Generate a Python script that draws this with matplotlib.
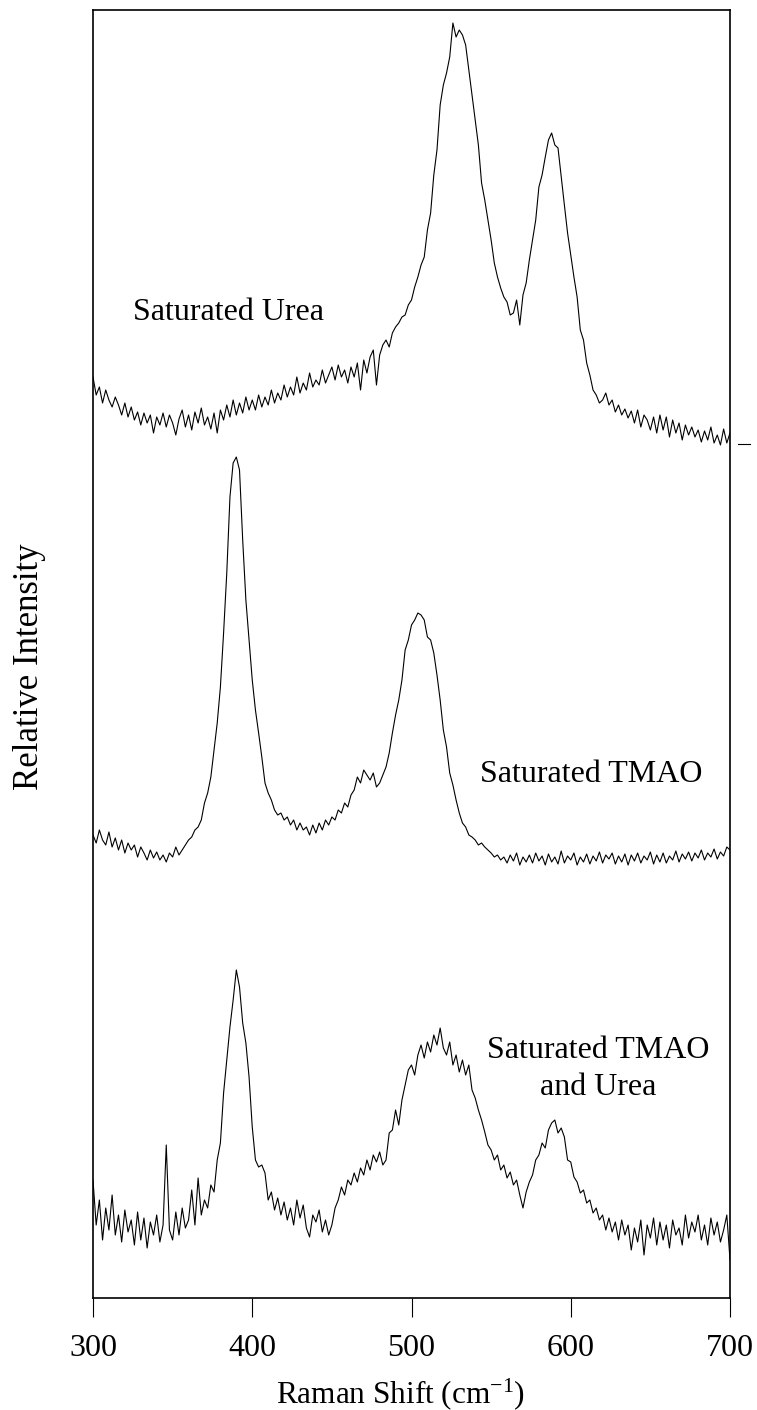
import numpy as np
import matplotlib
matplotlib.use('Agg')
import matplotlib.pyplot as plt
from matplotlib.lines import Line2D

plt.rcParams['font.family'] = ['Liberation Serif', 'DejaVu Serif']
plt.rcParams['mathtext.fontset'] = 'custom'
plt.rcParams['mathtext.rm'] = 'Liberation Serif'

# Raman shift grid (cm-1), 2 cm-1 steps
shift = np.arange(300, 701, 2)

# intensities (arbitrary units, each trace above its own baseline)
# one row = 20 cm-1
urea = [68, 50, 58, 42, 55, 45, 38, 48, 40, 30,
        42, 28, 38, 25, 33, 20, 32, 22, 30, 12,
        28, 20, 32, 18, 30, 22, 10, 26, 35, 18,
        30, 15, 33, 22, 37, 20, 28, 16, 32, 12,
        35, 25, 40, 28, 45, 30, 42, 32, 48, 35,
        45, 35, 50, 38, 48, 40, 55, 42, 52, 45,
        60, 48, 58, 50, 68, 52, 62, 55, 72, 58,
        65, 60, 75, 62, 70, 78, 65, 80, 68, 75,
        62, 78, 68, 82, 55, 85, 72, 88, 95, 60,
        90, 100, 105, 98, 112, 118, 122, 128, 130, 140,
        145, 158, 168, 180, 188, 215, 232, 270, 295, 340,
        360, 372, 388, 422, 408, 415, 410, 400, 375, 350,
        325, 300, 262, 245, 225, 205, 182, 168, 157, 148,
        143, 130, 132, 145, 120, 150, 162, 185, 205, 225,
        258, 270, 288, 305, 312, 300, 297, 268, 240, 212,
        190, 168, 148, 115, 105, 82, 70, 55, 50, 42,
        45, 52, 40, 45, 33, 40, 30, 36, 27, 34,
        22, 35, 18, 30, 25, 15, 28, 12, 30, 15,
        28, 8, 25, 12, 22, 5, 20, 10, 18, 8,
        15, 3, 14, 5, 18, 2, 10, 0, 16, 2,
        12]
tmao = [30, 22, 35, 25, 20, 33, 18, 27, 15, 25,
        12, 22, 15, 20, 8, 18, 12, 5, 15, 7,
        13, 5, 10, 3, 12, 8, 18, 10, 15, 20,
        25, 28, 35, 38, 45, 62, 72, 88, 115, 142,
        178, 232, 292, 368, 402, 408, 395, 325, 265, 225,
        185, 155, 132, 108, 82, 72, 65, 55, 50, 52,
        45, 48, 40, 45, 35, 42, 35, 38, 30, 40,
        32, 42, 35, 45, 40, 48, 45, 55, 52, 62,
        58, 70, 75, 88, 82, 95, 90, 85, 92, 78,
        82, 90, 98, 112, 132, 150, 165, 185, 215, 225,
        240, 245, 252, 250, 245, 228, 225, 212, 190, 165,
        135, 118, 92, 80, 65, 52, 42, 38, 30, 28,
        25, 20, 22, 18, 15, 12, 8, 10, 5, 8,
        2, 10, 4, 12, 0, 8, 3, 10, 2, 12,
        4, 9, 0, 11, 3, 8, 1, 14, 2, 9,
        5, 12, 0, 8, 3, 11, 1, 9, 4, 13,
        2, 10, 6, 12, 1, 9, 3, 11, 0, 10,
        4, 12, 2, 9, 5, 13, 1, 10, 3, 12,
        2, 9, 5, 14, 3, 11, 6, 13, 4, 12,
        7, 15, 5, 12, 8, 16, 6, 13, 9, 18,
        15]
mix = [90, 45, 70, 30, 62, 40, 75, 35, 55, 28,
       60, 38, 50, 25, 58, 30, 52, 22, 48, 35,
       55, 28, 45, 125, 40, 30, 58, 35, 62, 42,
       50, 80, 45, 92, 55, 70, 62, 85, 78, 110,
       127, 177, 210, 243, 270, 300, 283, 247, 227, 193,
       143, 110, 103, 105, 97, 70, 78, 60, 72, 55,
       68, 50, 62, 45, 70, 52, 65, 42, 33, 55,
       48, 60, 38, 50, 35, 45, 62, 70, 83, 75,
       90, 85, 97, 88, 102, 95, 110, 100, 115, 108,
       118, 105, 110, 137, 140, 160, 145, 170, 185, 200,
       205, 195, 215, 225, 212, 228, 218, 235, 225, 242,
       222, 215, 228, 205, 215, 198, 210, 195, 205, 180,
       172, 160, 150, 138, 125, 120, 110, 115, 100, 105,
       92, 98, 85, 90, 75, 62, 78, 88, 95, 110,
       115, 127, 122, 140, 147, 150, 137, 142, 133, 110,
       108, 93, 88, 77, 80, 67, 70, 57, 62, 50,
       55, 40, 52, 38, 48, 30, 50, 35, 45, 20,
       42, 28, 50, 15, 45, 32, 52, 25, 48, 30,
       45, 22, 50, 35, 42, 25, 55, 32, 48, 38,
       55, 30, 45, 25, 52, 35, 48, 28, 40, 55,
       10]

offsets = [853, 433, 28]
labels = ['Saturated Urea', 'Saturated TMAO', 'Saturated TMAO\nand Urea']

fig = plt.figure(figsize=(7.57, 14.10), dpi=100)
ax = fig.add_axes([93/757, 112/1410, 637/757, 1288/1410])

for spec, off in zip([urea, tmao, mix], offsets):
    ax.plot(shift, np.array(spec) + off, color='black', lw=0.8)

ax.set_xlim(300, 700)
ax.set_ylim(0, 1288)
ax.set_xticks([300, 400, 500, 600, 700])
ax.set_yticks([])
ax.tick_params(axis='x', direction='out', length=14, width=0.8, pad=12, labelsize=23)
for s in ax.spines.values():
    s.set_linewidth(1.2)

ax.set_xlabel(r'Raman Shift (cm$\mathregular{^{-1}}$)', fontsize=22.5, va='baseline')
ax.xaxis.set_label_coords(0.482, -0.0815)
ax.set_ylabel('Relative Intensity', fontsize=25)
ax.yaxis.set_label_coords(-0.074, 0.49)

ax.text(385, 978, labels[0], fontsize=23, ha='center', va='baseline')
ax.text(613, 516, labels[1], fontsize=23, ha='center', va='baseline')
ax.text(617, 229, labels[2], fontsize=23, ha='center', va='center',
        multialignment='center', linespacing=1.35)

# small stray mark right of the frame at the urea baseline
fig.add_artist(Line2D([738/757, 750/757], [1 - 444/1410] * 2, transform=fig.transFigure,
                      color='black', lw=0.8))

fig.savefig('out.png', dpi=100)
